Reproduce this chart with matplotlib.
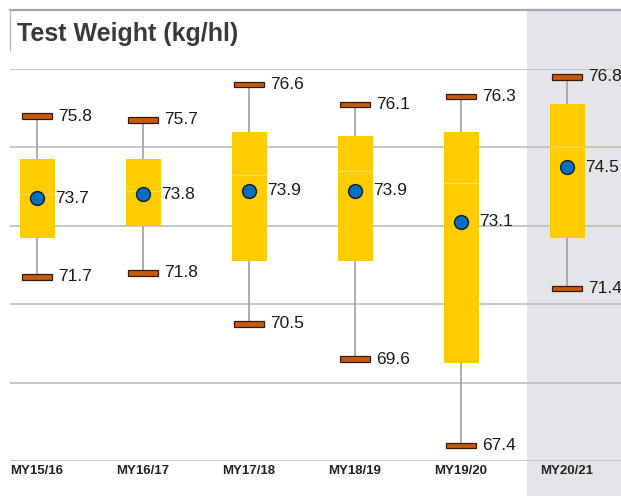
import matplotlib.pyplot as plt
import numpy as np
from matplotlib.patches import Rectangle
from matplotlib.lines import Line2D

# data
seasons = ["MY15/16", "MY16/17", "MY17/18", "MY18/19", "MY19/20", "MY20/21"]
lows = [71.7, 71.8, 70.5, 69.6, 67.4, 71.4]
highs = [75.8, 75.7, 76.6, 76.1, 76.3, 76.8]
means = [73.7, 73.8, 73.9, 73.9, 73.1, 74.5]
q1 = [72.7, 73.0, 72.1, 72.1, 69.5, 72.7]
medians = [73.8, 73.9, 74.3, 74.4, 74.1, 75.0]
q3 = [74.7, 74.7, 75.4, 75.3, 75.4, 76.1]

fig = plt.figure(figsize=(6.21, 4.96), dpi=100)
W, H = 621, 496

# grey band behind the latest season
fig.patches.append(Rectangle((527 / W, 0), 94 / W, 486 / H, transform=fig.transFigure,
                             facecolor="#E4E5E8", edgecolor="none", zorder=-1))
# frame lines round the title
fig.add_artist(Line2D([10 / W, 1], [1 - 10 / H] * 2, color="#A6A6A6", lw=1.6))
fig.add_artist(Line2D([10 / W] * 2, [1 - 10 / H, 1 - 50 / H], color="#BBBBBB", lw=1))
fig.text(17 / W, 1 - 41 / H, "Test Weight (kg/hl)", fontsize=18, fontweight="bold",
         family=["Liberation Sans", "DejaVu Sans"], color="#3A3A3A", va="baseline")

ax = fig.add_axes([10 / W, 35 / H, 611 / W, 392 / H])
ax.set_facecolor("none")
x = np.arange(len(seasons))
ax.set_xlim(-0.255, 5.509)
ax.set_ylim(67, 77)
for s in ax.spines.values():
    s.set_visible(False)
ax.set_yticks(np.arange(67, 78, 2))
ax.yaxis.grid(True, color="#BDBDBD", lw=1.2)
ax.set_axisbelow(True)
ax.tick_params(axis="y", left=False, labelleft=False)
ax.set_xticks(x)
ax.set_xticklabels(seasons, fontsize=9.5, fontweight="bold", color="#222222",
                   family=["Liberation Sans", "DejaVu Sans"])
ax.tick_params(axis="x", length=0, pad=3)

lab = dict(fontsize=12.5, family=["Liberation Sans", "DejaVu Sans"],
           color="#1A1A1A", va="center", ha="left", textcoords="offset points")

# whiskers
ax.vlines(x, lows, highs, color="#A0A0A0", lw=1.2, zorder=2)
# boxes split at the median
ax.bar(x, np.array(medians) - np.array(q1), bottom=q1, width=0.33, color="#FFCC00", zorder=3)
ax.bar(x, np.array(q3) - np.array(medians), bottom=medians, width=0.33, color="#FFCC00", zorder=3)
ax.hlines(medians, x - 0.165, x + 0.165, color="#FFDD66", lw=0.7, zorder=4)
# min / max caps
for v in (lows, highs):
    ax.bar(x, 0.14, bottom=np.array(v) - 0.07, width=0.28, color="#C55A11",
           edgecolor="#3B1A05", lw=0.9, zorder=5)
# means
ax.scatter(x, means, s=100, color="#0070C0", edgecolor="#1A1A1A", lw=1, zorder=6)

for i in x:
    ax.annotate(f"{highs[i]:.1f}", (i, highs[i]), xytext=(15, 0), **lab)
    ax.annotate(f"{lows[i]:.1f}", (i, lows[i]), xytext=(15, 0), **lab)
    ax.annotate(f"{means[i]:.1f}", (i, means[i]), xytext=(13, 0), **lab)

fig.savefig("out.png", dpi=100)
